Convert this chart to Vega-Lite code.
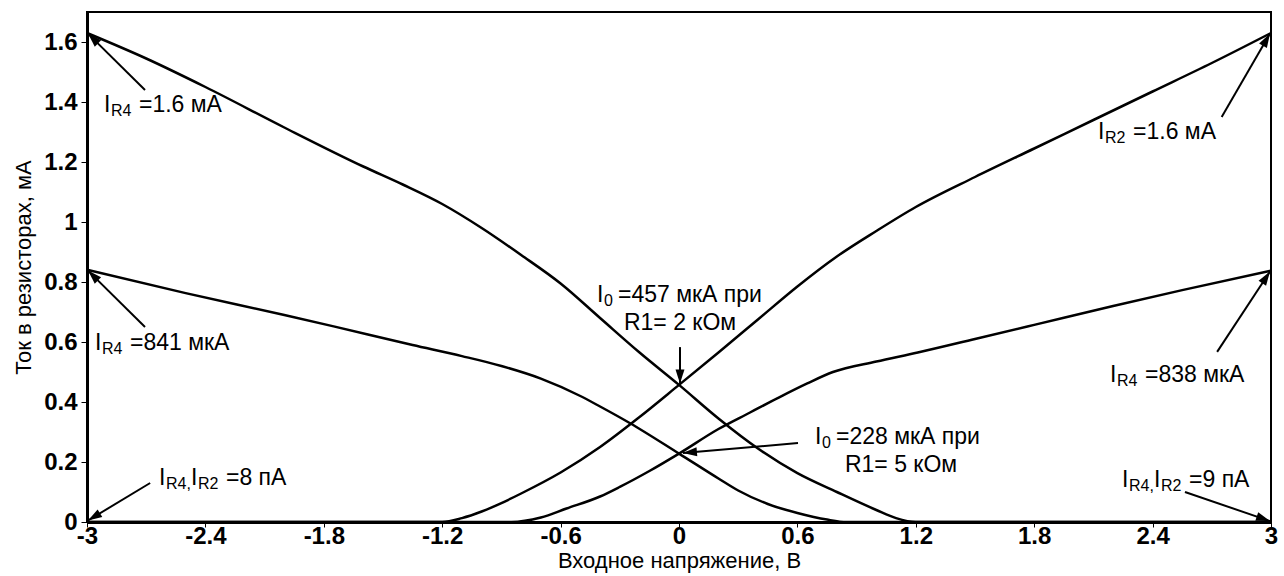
{
  "$schema": "https://vega.github.io/schema/vega-lite/v6.json",
  "width": 1184,
  "height": 510,
  "autosize": "none",
  "padding": {"left": 87, "top": 12, "right": 13, "bottom": 54},
  "background": "white",
  "config": {
    "view": {"stroke": "black", "strokeWidth": 2},
    "font": "Liberation Sans",
    "axis": {
      "grid": false,
      "domainColor": "black",
      "domainWidth": 3,
      "tickColor": "black",
      "tickWidth": 1,
      "labelColor": "black",
      "labelFont": "Liberation Sans",
      "labelFontWeight": "bold",
      "labelFontSize": 24,
      "titleFont": "Liberation Sans",
      "titleFontWeight": "normal",
      "titleFontSize": 22,
      "titleColor": "black"
    }
  },
  "datasets": {
    "curves": [
      {"s": "A", "u": -3, "i": 1.63}, {"s": "A", "u": -2.7, "i": 1.545}, {"s": "A", "u": -2.4, "i": 1.45},
      {"s": "A", "u": -2.0, "i": 1.315}, {"s": "A", "u": -1.6, "i": 1.185}, {"s": "A", "u": -1.4, "i": 1.125},
      {"s": "A", "u": -1.2, "i": 1.06}, {"s": "A", "u": -1.0, "i": 0.98}, {"s": "A", "u": -0.8, "i": 0.89},
      {"s": "A", "u": -0.6, "i": 0.795}, {"s": "A", "u": -0.4, "i": 0.68}, {"s": "A", "u": -0.2, "i": 0.565},
      {"s": "A", "u": 0, "i": 0.457}, {"s": "A", "u": 0.2, "i": 0.345}, {"s": "A", "u": 0.4, "i": 0.245},
      {"s": "A", "u": 0.6, "i": 0.163}, {"s": "A", "u": 0.8, "i": 0.1}, {"s": "A", "u": 1.0, "i": 0.04},
      {"s": "A", "u": 1.1, "i": 0.013}, {"s": "A", "u": 1.2, "i": 0}, {"s": "A", "u": 3, "i": 0},
      {"s": "B", "u": -3, "i": 0}, {"s": "B", "u": -1.2, "i": 0}, {"s": "B", "u": -1.1, "i": 0.013},
      {"s": "B", "u": -1.0, "i": 0.035}, {"s": "B", "u": -0.9, "i": 0.063}, {"s": "B", "u": -0.8, "i": 0.095},
      {"s": "B", "u": -0.6, "i": 0.165}, {"s": "B", "u": -0.4, "i": 0.25}, {"s": "B", "u": -0.2, "i": 0.35},
      {"s": "B", "u": 0, "i": 0.457}, {"s": "B", "u": 0.2, "i": 0.565}, {"s": "B", "u": 0.4, "i": 0.675},
      {"s": "B", "u": 0.6, "i": 0.785}, {"s": "B", "u": 0.8, "i": 0.885}, {"s": "B", "u": 1.0, "i": 0.97},
      {"s": "B", "u": 1.2, "i": 1.05}, {"s": "B", "u": 1.5, "i": 1.15}, {"s": "B", "u": 1.8, "i": 1.245},
      {"s": "B", "u": 2.1, "i": 1.34}, {"s": "B", "u": 2.4, "i": 1.435}, {"s": "B", "u": 2.7, "i": 1.53},
      {"s": "B", "u": 3, "i": 1.63},
      {"s": "C", "u": -3, "i": 0.841}, {"s": "C", "u": -2.5, "i": 0.763}, {"s": "C", "u": -2.0, "i": 0.69},
      {"s": "C", "u": -1.75, "i": 0.652}, {"s": "C", "u": -1.35, "i": 0.59}, {"s": "C", "u": -1.1, "i": 0.553},
      {"s": "C", "u": -0.9, "i": 0.52}, {"s": "C", "u": -0.7, "i": 0.478}, {"s": "C", "u": -0.5, "i": 0.42},
      {"s": "C", "u": -0.4, "i": 0.385}, {"s": "C", "u": -0.25, "i": 0.33}, {"s": "C", "u": 0, "i": 0.228},
      {"s": "C", "u": 0.2, "i": 0.145}, {"s": "C", "u": 0.3, "i": 0.105}, {"s": "C", "u": 0.45, "i": 0.06},
      {"s": "C", "u": 0.6, "i": 0.03}, {"s": "C", "u": 0.75, "i": 0.008}, {"s": "C", "u": 0.85, "i": 0},
      {"s": "C", "u": 3, "i": 0},
      {"s": "D", "u": -3, "i": 0}, {"s": "D", "u": -0.85, "i": 0}, {"s": "D", "u": -0.7, "i": 0.015},
      {"s": "D", "u": -0.57, "i": 0.045}, {"s": "D", "u": -0.4, "i": 0.085}, {"s": "D", "u": -0.3, "i": 0.117},
      {"s": "D", "u": -0.15, "i": 0.17}, {"s": "D", "u": 0, "i": 0.228}, {"s": "D", "u": 0.2, "i": 0.31},
      {"s": "D", "u": 0.36, "i": 0.365}, {"s": "D", "u": 0.5, "i": 0.413}, {"s": "D", "u": 0.65, "i": 0.462},
      {"s": "D", "u": 0.78, "i": 0.5}, {"s": "D", "u": 1.0, "i": 0.535}, {"s": "D", "u": 1.21, "i": 0.565},
      {"s": "D", "u": 1.5, "i": 0.61}, {"s": "D", "u": 1.8, "i": 0.657}, {"s": "D", "u": 2.2, "i": 0.72},
      {"s": "D", "u": 2.55, "i": 0.773}, {"s": "D", "u": 3, "i": 0.838}
    ],
    "arrows": [
      {"x": -2.706, "y": 1.44, "hx": -2.995, "hy": 1.628},
      {"x": -2.706, "y": 0.65, "hx": -2.995, "hy": 0.838},
      {"x": -2.68, "y": 0.13, "hx": -2.995, "hy": 0.005},
      {"x": 0.005, "y": 0.583, "hx": 0.005, "hy": 0.462},
      {"x": 0.603, "y": 0.263, "hx": 0.02, "hy": 0.23},
      {"x": 2.75, "y": 1.35, "hx": 2.995, "hy": 1.628},
      {"x": 2.727, "y": 0.567, "hx": 2.995, "hy": 0.835},
      {"x": 2.564, "y": 0.1, "hx": 2.995, "hy": 0.003}
    ],
    "labels": [
      {"k": "main", "x": -2.9139, "y": 1.39, "t": "I"},
      {"k": "sub", "x": -2.8784, "y": 1.39, "t": "R4"},
      {"k": "main", "x": -2.7365, "y": 1.39, "t": "=1.6 мА"},
      {"k": "main", "x": -2.9595, "y": 0.597, "t": "I"},
      {"k": "sub", "x": -2.924, "y": 0.597, "t": "R4"},
      {"k": "main", "x": -2.7821, "y": 0.597, "t": "=841 мкА"},
      {"k": "main", "x": -2.6351, "y": 0.147, "t": "I"},
      {"k": "sub", "x": -2.5997, "y": 0.147, "t": "R4,"},
      {"k": "main", "x": -2.473, "y": 0.147, "t": "I"},
      {"k": "sub", "x": -2.4375, "y": 0.147, "t": "R2"},
      {"k": "main", "x": -2.2956, "y": 0.147, "t": "=8 пА"},
      {"k": "main", "x": -0.4155, "y": 0.757, "t": "I"},
      {"k": "sub", "x": -0.38, "y": 0.757, "t": "0"},
      {"k": "main", "x": -0.309, "y": 0.757, "t": "=457 мкА при"},
      {"k": "center", "x": 0.005, "y": 0.663, "t": "R1= 2 кОм"},
      {"k": "main", "x": 0.6893, "y": 0.2844, "t": "I"},
      {"k": "sub", "x": 0.7248, "y": 0.2844, "t": "0"},
      {"k": "main", "x": 0.7957, "y": 0.2844, "t": "=228 мкА при"},
      {"k": "center", "x": 1.125, "y": 0.19, "t": "R1= 5 кОм"},
      {"k": "main", "x": 2.1234, "y": 1.3, "t": "I"},
      {"k": "sub", "x": 2.1589, "y": 1.3, "t": "R2"},
      {"k": "main", "x": 2.3008, "y": 1.3, "t": "=1.6 мА"},
      {"k": "main", "x": 2.1841, "y": 0.49, "t": "I"},
      {"k": "sub", "x": 2.2196, "y": 0.49, "t": "R4"},
      {"k": "main", "x": 2.3615, "y": 0.49, "t": "=838 мкА"},
      {"k": "main", "x": 2.245, "y": 0.14, "t": "I"},
      {"k": "sub", "x": 2.2805, "y": 0.14, "t": "R4,"},
      {"k": "main", "x": 2.4072, "y": 0.14, "t": "I"},
      {"k": "sub", "x": 2.4427, "y": 0.14, "t": "R2"},
      {"k": "main", "x": 2.5846, "y": 0.14, "t": "=9 пА"}
    ]
  },
  "layer": [
    {
      "data": {"name": "curves"},
      "mark": {"type": "line", "color": "black", "strokeWidth": 2.5, "interpolate": "monotone"},
      "encoding": {
        "x": {
          "field": "u", "type": "quantitative",
          "scale": {"domain": [-3, 3], "nice": false, "zero": false},
          "axis": {
            "title": "Входное напряжение, В",
            "values": [-3, -2.4, -1.8, -1.2, -0.6, 0, 0.6, 1.2, 1.8, 2.4, 3],
            "format": "~g",
            "labelExpr": "replace(datum.label, '\u2212', '-')",
            "labelFlush": false,
            "labelOverlap": false,
            "tickSize": 5,
            "labelPadding": -3,
            "titlePadding": 2
          }
        },
        "y": {
          "field": "i", "type": "quantitative",
          "scale": {"domain": [0, 1.7], "nice": false, "zero": true},
          "axis": {
            "title": "Ток в резисторах, мА",
            "values": [0, 0.2, 0.4, 0.6, 0.8, 1, 1.2, 1.4, 1.6],
            "format": "~g",
            "labelFlush": false,
            "labelOverlap": false,
            "tickSize": 6,
            "labelPadding": 4,
            "titlePadding": 8
          }
        },
        "detail": {"field": "s"}
      }
    },
    {
      "data": {"name": "arrows"},
      "mark": {"type": "rule", "color": "black", "strokeWidth": 2},
      "encoding": {
        "x": {"field": "x", "type": "quantitative", "title": "Входное напряжение, В"},
        "y": {"field": "y", "type": "quantitative", "title": "Ток в резисторах, мА"},
        "x2": {"field": "hx"},
        "y2": {"field": "hy"}
      }
    },
    {
      "data": {"name": "arrows"},
      "transform": [
        {"calculate": "atan2((datum.hx - datum.x) * 197.33, (datum.hy - datum.y) * 300) * 180 / PI", "as": "ang"}
      ],
      "mark": {"type": "point", "filled": true, "opacity": 1, "color": "black", "strokeWidth": 0, "shape": "M0,0L-0.32,1L0.32,1Z", "size": 784},
      "encoding": {
        "x": {"field": "hx", "type": "quantitative", "title": "Входное напряжение, В"},
        "y": {"field": "hy", "type": "quantitative", "title": "Ток в резисторах, мА"},
        "angle": {"field": "ang", "type": "quantitative", "scale": null}
      }
    },
    {
      "data": {"name": "labels"},
      "transform": [{"filter": "datum.k === 'main'"}],
      "mark": {"type": "text", "align": "left", "baseline": "middle", "fontSize": 23, "font": "Liberation Sans", "color": "black"},
      "encoding": {
        "x": {"field": "x", "type": "quantitative", "title": "Входное напряжение, В"},
        "y": {"field": "y", "type": "quantitative", "title": "Ток в резисторах, мА"},
        "text": {"field": "t"}
      }
    },
    {
      "data": {"name": "labels"},
      "transform": [{"filter": "datum.k === 'sub'"}],
      "mark": {"type": "text", "align": "left", "baseline": "middle", "fontSize": 16, "dy": 6, "font": "Liberation Sans", "color": "black"},
      "encoding": {
        "x": {"field": "x", "type": "quantitative", "title": "Входное напряжение, В"},
        "y": {"field": "y", "type": "quantitative", "title": "Ток в резисторах, мА"},
        "text": {"field": "t"}
      }
    },
    {
      "data": {"name": "labels"},
      "transform": [{"filter": "datum.k === 'center'"}],
      "mark": {"type": "text", "align": "center", "baseline": "middle", "fontSize": 23, "font": "Liberation Sans", "color": "black"},
      "encoding": {
        "x": {"field": "x", "type": "quantitative", "title": "Входное напряжение, В"},
        "y": {"field": "y", "type": "quantitative", "title": "Ток в резисторах, мА"},
        "text": {"field": "t"}
      }
    }
  ]
}
